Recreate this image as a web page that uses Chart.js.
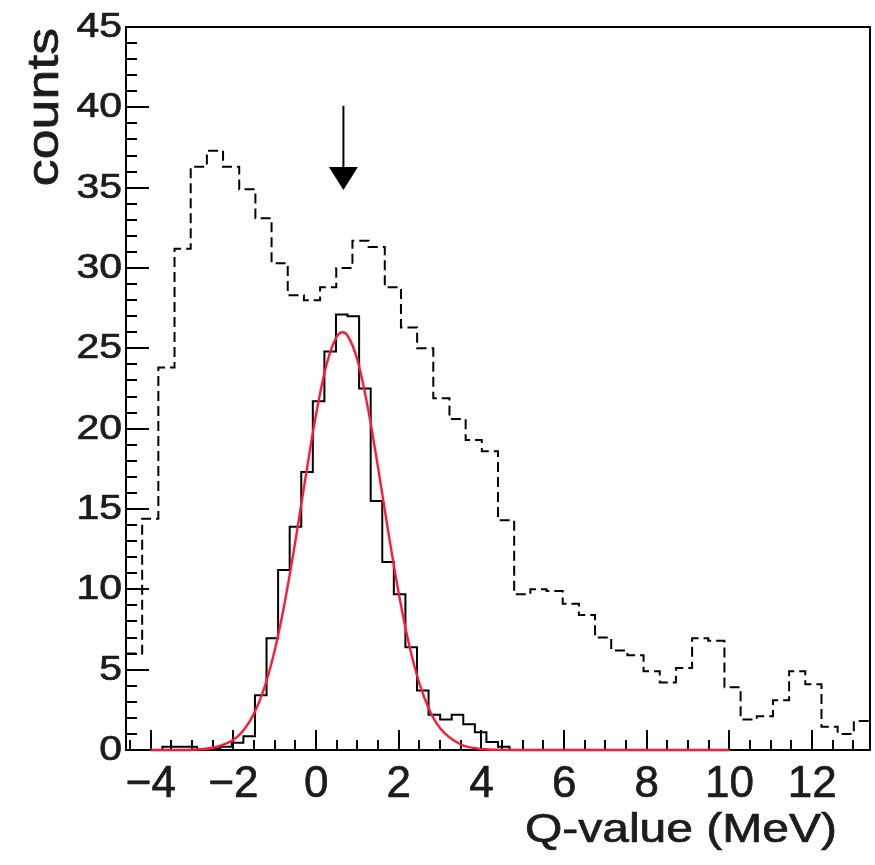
<!DOCTYPE html>
<html lang="en">
<head>
  <meta charset="UTF-8">
  <title>Q-value</title>
  <script src="https://cdn.jsdelivr.net/npm/chart.js"></script>
  <style>
    html, body { margin: 0; padding: 0; background: #fff; }
    #grafico { display: block; }
  </style>
</head>
<body>
  <canvas id="grafico" width="875" height="865"></canvas>

<script>
  // binning of the two histograms (nbins, low edge, high edge)
  const dashedBins = { n: 46, min: -4.6, max: 13.4 };
  const solidBins = { n: 50, min: -4, max: 10 };

  // dashed histogram (all events)
  const dashedCounts = [6.0, 14.4, 23.8, 31.2, 36.3, 37.3, 36.3, 34.9, 33.1, 30.3,
    28.3, 28.0, 28.8, 30.0, 31.7, 31.3, 28.8, 26.3, 25.0, 21.9,
    20.6, 19.3, 18.6, 14.3, 9.7, 10.0, 9.9, 9.1, 8.4, 7.0,
    6.2, 5.9, 4.9, 4.2, 5.1, 6.95, 6.8, 3.9, 1.9, 2.1,
    3.1, 4.9, 4.1, 1.45, 1.0, 1.8];

  // solid histogram (selected events)
  const solidCounts = [0, 0.2, 0.2, 0.2, 0, 0.1, 0.2, 0.45, 0.85, 3.4,
    6.95, 11.2, 13.9, 17.3, 21.7, 24.8, 27.1, 27.0, 22.5, 15.5,
    11.7, 9.7, 6.4, 3.7, 2.2, 1.9, 2.2, 1.6, 1.1, 0.5,
    0.2, 0, 0, 0, 0, 0, 0, 0, 0, 0,
    0, 0, 0, 0, 0, 0, 0, 0, 0, 0];

  // red fit curve
  const fitX = [-4, -3.5, -3, -2.5, -2, -1.75, -1.5, -1.25, -1, -0.75, -0.5, -0.25, 0, 0.25, 0.5, 0.64,
    0.75, 1, 1.25, 1.5, 1.75, 2, 2.25, 2.5, 2.75, 3, 3.5, 4, 4.5, 5, 10];
  const fitY = [0, 0, 0.02, 0.14, 0.64, 1.25, 2.28, 3.9, 6.23, 9.31, 13.03, 17.06, 20.91, 23.98, 25.73, 26.0,
    25.83, 24.27, 21.33, 17.55, 13.51, 9.73, 6.55, 4.13, 2.44, 1.35, 0.34, 0.06, 0.01, 0, 0];

  const xTicks = [-4, -2, 0, 2, 4, 6, 8, 10, 12];
  const yTicks = [0, 5, 10, 15, 20, 25, 30, 35, 40, 45];

  // arrow marking the peak
  const arrowX = 0.66;
  const arrowTop = 40.1;
  const arrowTip = 34.85;

  const FONTE = '"Liberation Sans", Arial, Helvetica, sans-serif';
  const COR_TEXTO = '#1c1c1c';

  function pontosHist(bins, counts) {
    const largura = (bins.max - bins.min) / bins.n;
    const pts = counts.map((c, i) => ({ x: bins.min + i * largura, y: c }));
    pts.push({ x: bins.max, y: counts[counts.length - 1] });
    return pts;
  }

  // text with a slight horizontal stretch and a thin outline (helvetica look)
  function texto(ctx, str, x, y, tamanho, esticar, alinhar, girar) {
    ctx.save();
    ctx.translate(x, y);
    if (girar) ctx.rotate(-Math.PI / 2);
    ctx.scale(esticar, 1);
    ctx.font = tamanho + 'px ' + FONTE;
    ctx.textAlign = alinhar;
    ctx.textBaseline = 'alphabetic';
    ctx.fillStyle = COR_TEXTO;
    ctx.strokeStyle = COR_TEXTO;
    ctx.lineWidth = 0.7;
    ctx.fillText(str, 0, 0);
    ctx.strokeText(str, 0, 0);
    ctx.restore();
  }

  const moldura = {
    id: 'moldura',
    beforeDatasetsDraw(chart) {
      const { ctx, chartArea: a, scales: { x, y } } = chart;
      ctx.save();
      ctx.strokeStyle = '#000';
      ctx.lineWidth = 2;
      ctx.strokeRect(a.left, a.top, a.right - a.left, a.bottom - a.top);

      ctx.beginPath();
      // x ticks: major every 2, minor every 0.5
      for (let v = -4.5; v <= x.max; v += 0.5) {
        const px = Math.round(x.getPixelForValue(v));
        const len = xTicks.includes(v) ? 20 : 10;
        ctx.moveTo(px, a.bottom);
        ctx.lineTo(px, a.bottom - len);
      }
      // y ticks: major every 5, minor every 1
      for (let v = 1; v < y.max; v += 1) {
        const py = Math.round(y.getPixelForValue(v));
        const len = yTicks.includes(v) ? 23 : 11;
        ctx.moveTo(a.left, py);
        ctx.lineTo(a.left + len, py);
      }
      ctx.stroke();
      ctx.restore();
    },
    afterDraw(chart) {
      const { ctx, scales: { x, y } } = chart;

      xTicks.forEach(v => {
        const rotulo = v < 0 ? '\u2212' + Math.abs(v) : String(v);
        texto(ctx, rotulo, x.getPixelForValue(v), 797, 44, 1, 'center');
      });
      yTicks.forEach(v => {
        texto(ctx, String(v), 122, y.getPixelForValue(v) + 10, 35, 1.17, 'right');
      });

      texto(ctx, 'Q-value (MeV)', 837, 842, 40, 1.2, 'right');
      texto(ctx, 'counts', 58, 28, 44, 1.22, 'right', true);

      // arrow
      const ax = x.getPixelForValue(arrowX);
      const yTopo = y.getPixelForValue(arrowTop);
      const yPonta = y.getPixelForValue(arrowTip);
      const yBase = yPonta - 23;
      ctx.save();
      ctx.strokeStyle = '#000';
      ctx.fillStyle = '#000';
      ctx.lineWidth = 2;
      ctx.beginPath();
      ctx.moveTo(ax, yTopo);
      ctx.lineTo(ax, yBase);
      ctx.stroke();
      ctx.beginPath();
      ctx.moveTo(ax - 14.5, yBase);
      ctx.lineTo(ax + 14.5, yBase);
      ctx.lineTo(ax, yPonta);
      ctx.closePath();
      ctx.fill();
      ctx.restore();
    }
  };

  const config = {
    type: 'line',
    data: {
      datasets: [
        {
          label: 'fit',
          data: fitX.map((v, i) => ({ x: v, y: fitY[i] })),
          borderColor: 'rgb(255, 25, 55)',
          borderWidth: 2.4,
          pointRadius: 0,
          cubicInterpolationMode: 'monotone',
          fill: false,
          clip: 4
        },
        {
          label: 'selected',
          data: pontosHist(solidBins, solidCounts),
          borderColor: '#000',
          borderWidth: 2,
          pointRadius: 0,
          stepped: 'before',
          fill: false,
          clip: 4
        },
        {
          label: 'all',
          data: pontosHist(dashedBins, dashedCounts),
          borderColor: '#000',
          borderWidth: 2,
          borderDash: [10, 5],
          pointRadius: 0,
          stepped: 'before',
          fill: false,
          clip: 4
        }
      ]
    },
    options: {
      responsive: false,
      animation: false,
      events: [],
      layout: { padding: { left: 126, top: 27, right: 5, bottom: 115 } },
      scales: {
        x: { type: 'linear', min: dashedBins.min, max: dashedBins.max, display: false },
        y: { type: 'linear', min: 0, max: 45, display: false }
      },
      plugins: {
        legend: { display: false },
        tooltip: { enabled: false }
      }
    },
    plugins: [moldura]
  };

  let grafico = new Chart(document.getElementById('grafico'), config);
</script>
</body>
</html>
